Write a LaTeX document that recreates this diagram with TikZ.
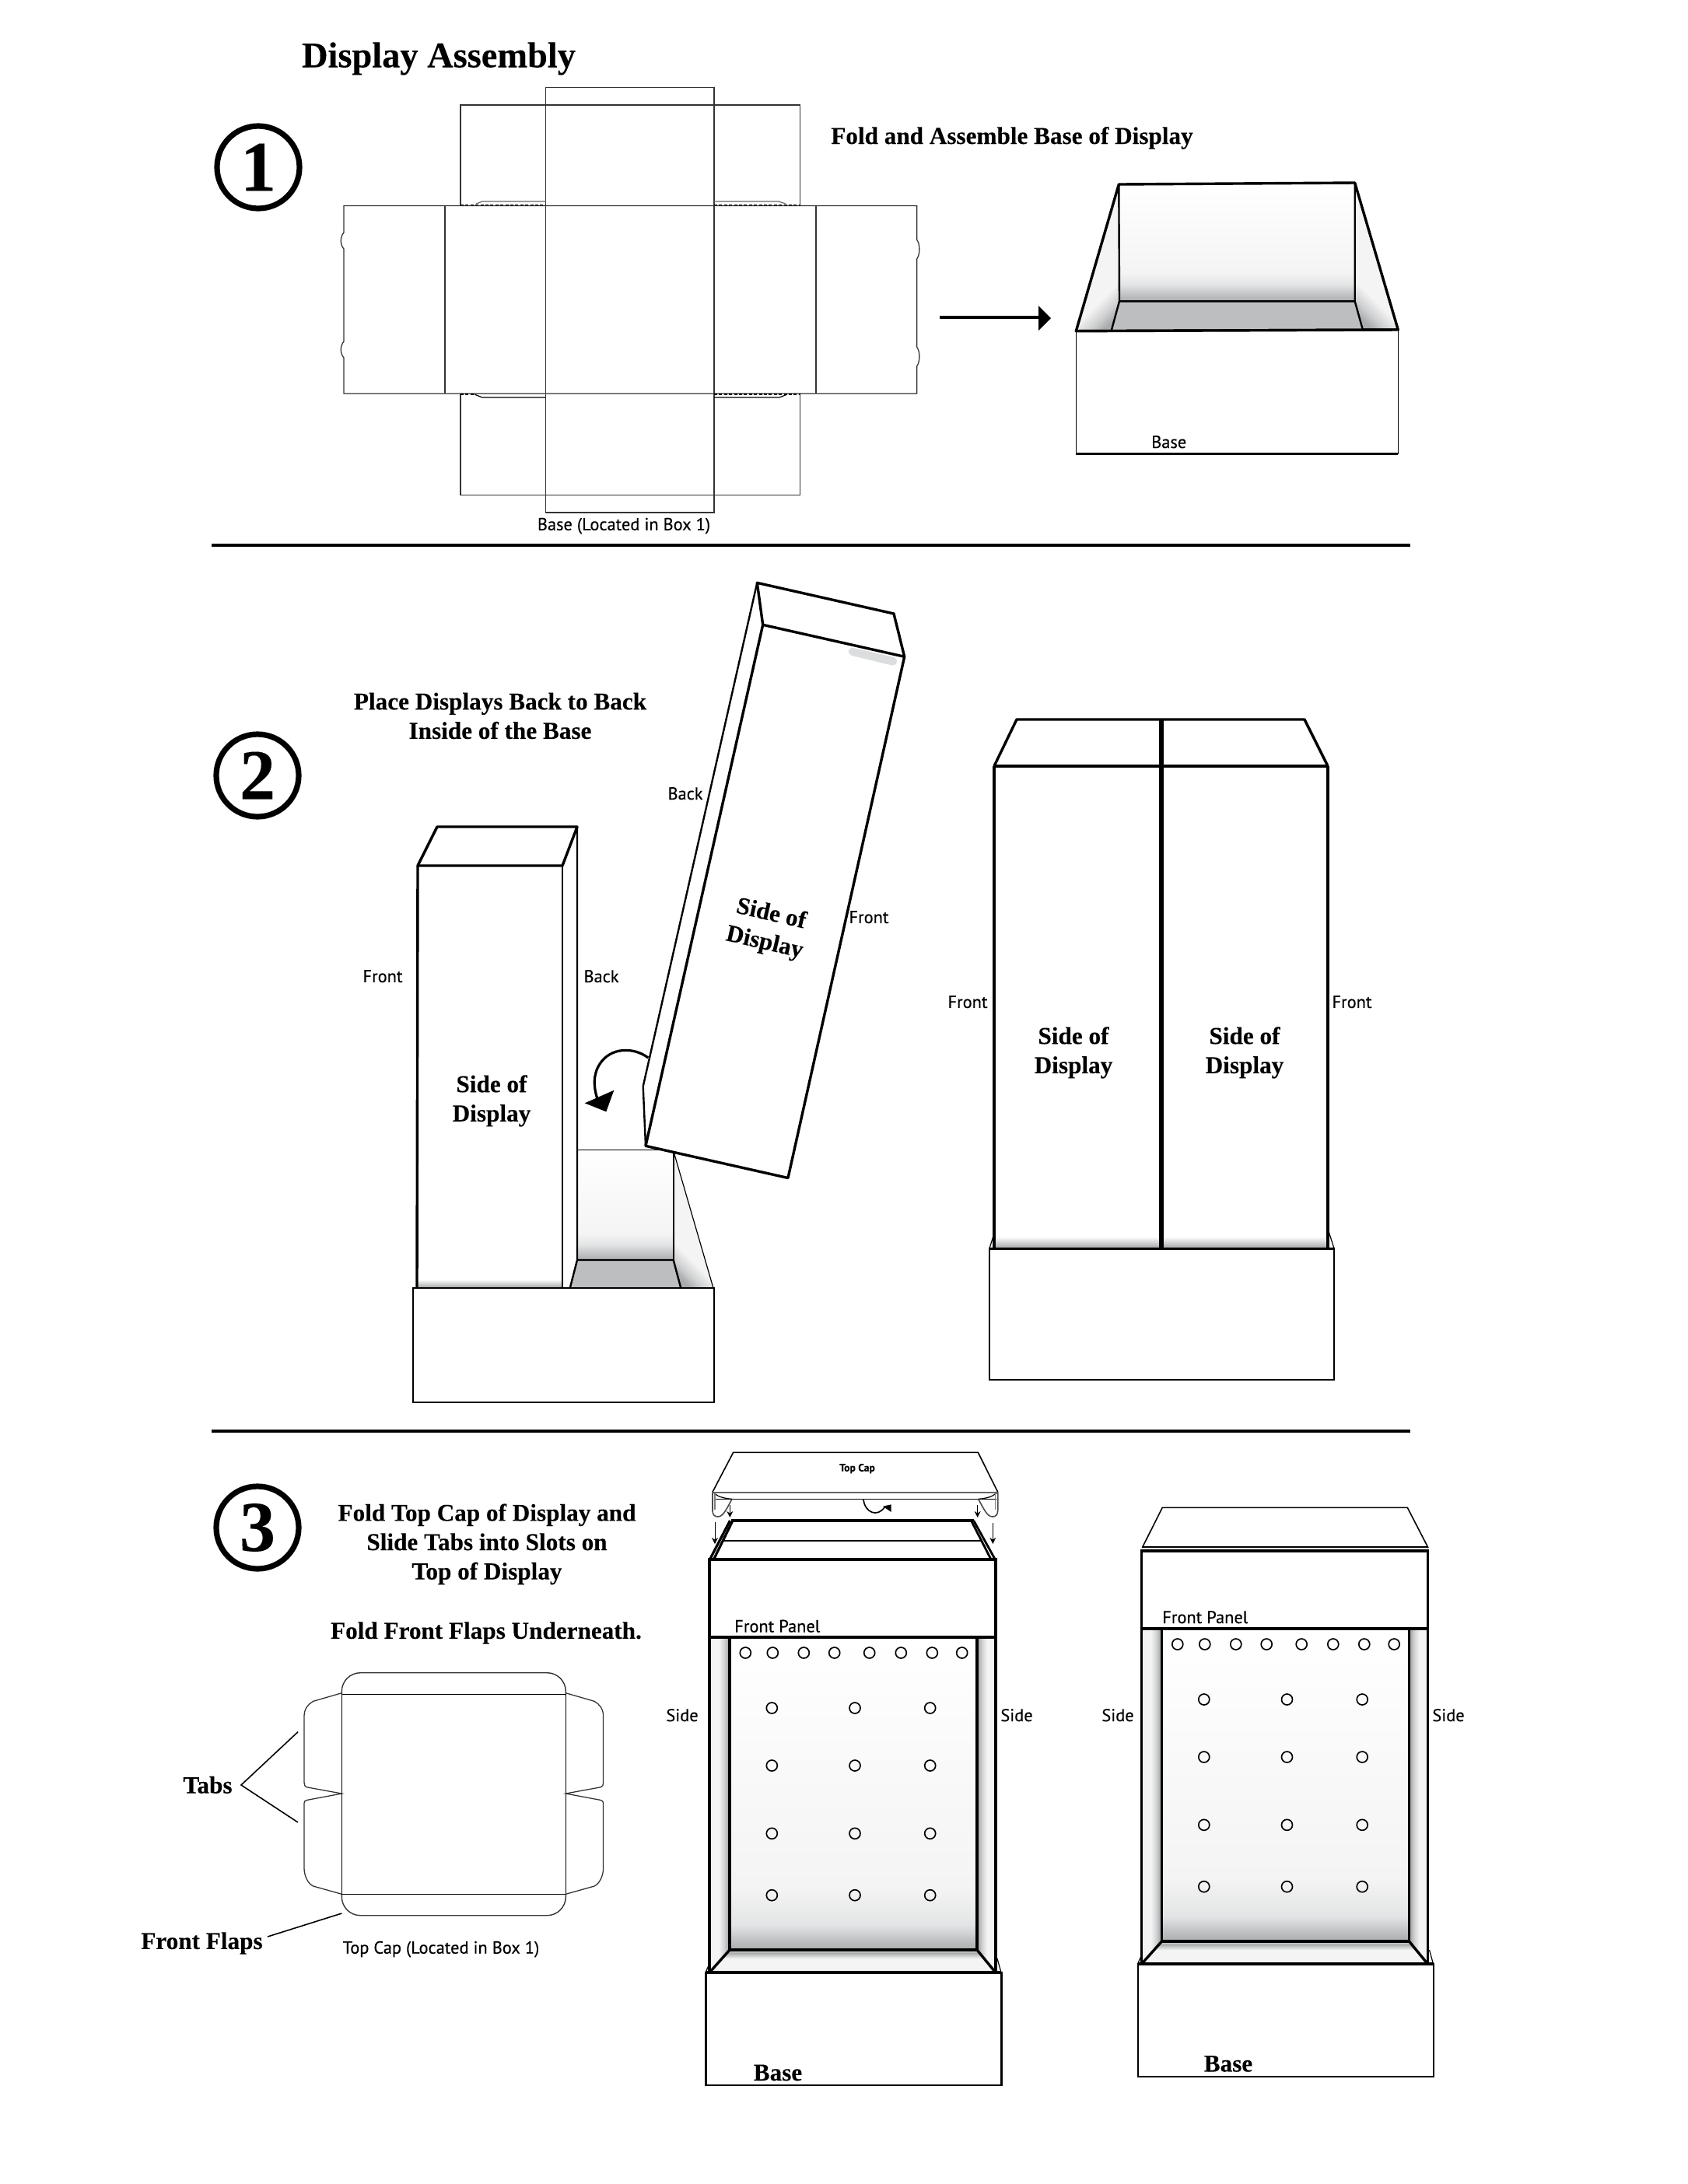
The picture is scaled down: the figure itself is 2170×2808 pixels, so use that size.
\documentclass[tikz,border=0pt]{standalone}
\usepackage{fontspec}
\setmainfont{Liberation Serif}[BoldFeatures={FakeBold=0.12}]
\newfontfamily\labfont[FakeBold=0.22]{PT Sans}
\usetikzlibrary{arrows.meta}
% shadings: the central 25bp..75bp band is fitted to the path
\definecolor{wA}{HTML}{A9ABAD}
\definecolor{wB}{HTML}{E3E4E5}
\definecolor{wC}{HTML}{F4F4F4}
\definecolor{wD}{HTML}{FFFFFF}
\definecolor{wE}{HTML}{989A9C}
\definecolor{wF}{HTML}{CFD0D1}
\definecolor{floorgray}{HTML}{BCBEC0}
\definecolor{tabgray}{HTML}{DCDDDE}
\pgfdeclareverticalshading{wallshade}{100bp}{color(0bp)=(wA);color(25bp)=(wA);color(29bp)=(wB);color(35bp)=(wC);color(75bp)=(wD);color(100bp)=(wD)}
\pgfdeclareverticalshading{binshade}{100bp}{color(0bp)=(wA);color(25bp)=(wA);color(32bp)=(wB);color(37bp)=(wC);color(75bp)=(wD);color(100bp)=(wD)}
\pgfdeclareverticalshading{floorshade}{100bp}{color(0bp)=(wC);color(25bp)=(wC);color(55bp)=(wC);color(68bp)=(wA);color(75bp)=(wB);color(100bp)=(wB)}
\pgfdeclarehorizontalshading{leftside}{100bp}{color(0bp)=(wC);color(25bp)=(wC);color(48bp)=(wC);color(62bp)=(wF);color(75bp)=(wE);color(100bp)=(wE)}
\pgfdeclarehorizontalshading{rightside}{100bp}{color(0bp)=(wE);color(25bp)=(wE);color(38bp)=(wF);color(52bp)=(wC);color(75bp)=(wC);color(100bp)=(wC)}
\pgfdeclarehorizontalshading{diagwedge}{100bp}{color(0bp)=(wC);color(67bp)=(wC);color(74bp)=(wF);color(79bp)=(wA);color(100bp)=(wA)}
\pgfdeclareverticalshading{baseglow}{100bp}{color(0bp)=(wA);color(25bp)=(wA);color(75bp)=(wD);color(100bp)=(wD)}
\tikzset{
  thickln/.style={line width=0.85pt,line join=miter},
  medln/.style={line width=0.6pt},
  thinln/.style={line width=0.4pt},
  hairln/.style={line width=0.3pt},
  netln/.style={line width=0.32pt,draw=black!80},
  sepln/.style={line width=1.1pt},
  titletxt/.style={inner sep=0pt,align=center,yshift=-0.85pt,font=\fontsize{7.8}{9.4}\selectfont\bfseries},
  labeltxt/.style={inner sep=0pt,align=center,yshift=-0.3pt,font=\fontsize{5.6}{6.6}\selectfont\labfont},
  stepring/.style={circle,draw,line width=1.8pt,minimum size=26.5pt,inner sep=0pt,font=\fontsize{23}{23}\selectfont\bfseries},
  holemark/.style={line width=0.42pt,draw=black},
  smalltip/.style={-{Stealth[length=2pt,width=2pt]},line width=0.22pt},
}
\newcommand{\holeset}{%
  \foreach \hx in {958.3,993.3,1033.3,1072.7,1117.7,1158.3,1198.3,1236.7}
    \draw[holemark] (\hx,2125) circle (7);
  \foreach \hy in {2196,2270,2357.3,2436.7}
    \foreach \hx in {992.3,1099,1195.7}
      \draw[holemark] (\hx,\hy) circle (7);
}
\newcommand{\figthree}{%
  % side panels, back, floor
  \shade[shading=leftside] (912,2105)--(938,2105)--(938,2507)--(913,2535)--cycle;
  \shade[shading=rightside] (1256,2105)--(1280,2105)--(1279,2535)--(1256,2507)--cycle;
  \shade[shading=wallshade] (938,2105) rectangle (1256,2507);
  \shade[shading=floorshade] (938,2507)--(1256,2507)--(1279,2535)--(913,2535)--cycle;
  \holeset
  \draw[thickln] (938,2105)--(938,2507)--(1256,2507)--(1256,2105);
  \draw[thickln] (938,2507)--(913,2535);
  \draw[thickln] (1256,2507)--(1279,2535);
  \draw[thickln] (912,2105)--(912,2536);
  \draw[thickln] (1280,2105)--(1280,2536);
  % base
  \draw[hairln] (907,2536)--(911,2527);
  \draw[hairln] (1287,2536)--(1282,2518);
  \draw[medln,fill=white] (907.3,2536) rectangle (1287.3,2681);
  \draw[thickln] (907.3,2536)--(1287.3,2536);
  % front panel
  \draw[thickln,fill=white] (912,2005) rectangle (1280,2105);
}
\begin{document}
\begin{tikzpicture}[x=0.25pt,y=-0.25pt]
\useasboundingbox (0,0) rectangle (2170,2808);
\fill[white] (0,0) rectangle (2170,2808);

% ---------- headings and step marks
\node[titletxt,font=\fontsize{11.6}{13}\selectfont\bfseries] (title) at (564,72) {Display Assembly};
\node[stepring] (stepA) at (332,215) {1};
\node[stepring] (stepB) at (331,997) {2};
\node[stepring] (stepC) at (331,1964) {3};
\node[titletxt] (foldbase) at (1301,174) {Fold and Assemble Base of Display};

% ---------- base net
\draw[netln] (701.5,112.6) rectangle (918,659);
\draw[netln] (592,264.5)--(592,135)--(1028.5,135)--(1028.5,264.5);
\draw[netln] (592,506)--(592,636.5)--(1028.5,636.5)--(1028.5,506);
\draw[netln] (442,264.5)--(442,299) .. controls (437,305) and (437,314) .. (442,320)
  --(442,439) .. controls (437,445) and (437,454) .. (442,460)
  --(442,506)--(1178.6,506)
  --(1178.6,471) .. controls (1183,465) and (1183,452) .. (1178.6,446)
  --(1178.6,333) .. controls (1183,327) and (1183,314) .. (1178.6,308)
  --(1178.6,264.5)--cycle;
\draw[netln] (572,264.5)--(572,506);
\draw[netln] (1049,264.5)--(1049,506);
\draw[line width=0.4pt,dash pattern=on 1pt off 0.6pt] (592,263.5)--(701.5,263.5);
\draw[line width=0.4pt,dash pattern=on 1pt off 0.6pt] (918,263.5)--(1028.5,263.5);
\draw[line width=0.4pt,dash pattern=on 1pt off 0.6pt] (592,507)--(610,507);
\draw[line width=0.4pt,dash pattern=on 1pt off 0.6pt] (918,507)--(1028.5,507);
\draw[hairln,draw=black!60] (612,262)--(620,259)--(701.5,259);
\draw[hairln,draw=black!60] (918,259)--(1001,259)--(1010,262);
\draw[hairln] (610,507)--(620,511)--(701.5,511);
\draw[hairln] (918,511)--(1002,511)--(1012,507);
\node[labeltxt] (netlabel) at (802,675) {Base (Located in Box 1)};

% ---------- arrow net to tray
\coordinate (arrA) at (1208,408);
\coordinate (arrB) at (1337,408);
\draw[line width=0.85pt] (arrA)--(arrB);
\fill (1351,409)--(1335,393)--(1335,425)--cycle;

% ---------- assembled base, step 1
\shade[shading=binshade] (1438.3,237)--(1741.7,235)--(1741.7,387.3)--(1439,387.3)--cycle;
\shade[shading=diagwedge,shading angle=-45] (1438.3,237)--(1439,387.3)--(1429,424)--(1383.3,425.7)--cycle;
\shade[shading=diagwedge,shading angle=225] (1741.7,235)--(1797.3,424)--(1751.7,423.3)--(1741.7,387.3)--cycle;
\fill[floorgray] (1439,387.3)--(1741.7,387.3)--(1751.7,423.3)--(1429,424)--cycle;
\draw[medln] (1438.3,237)--(1439,387.3)--(1741.7,387.3)--(1741.7,235);
\draw[medln] (1439,387.3)--(1429,424);
\draw[medln] (1741.7,387.3)--(1751.7,423.3);
\draw[thickln,line join=round] (1383.3,425.7)--(1438.3,237)--(1741.7,235)--(1797.3,424)--cycle;
\draw[thinln,fill=white] (1383.3,425.7)--(1383.3,583.3)--(1797.3,583.3)--(1797.3,424);
\draw[medln] (1383.3,583.3)--(1797.3,583.3);
\draw[thickln] (1383.3,425.7)--(1797.3,424);
\node[labeltxt] (basetray) at (1502.7,567) {Base};

% ---------- separators
\coordinate (sepAl) at (272,701);
\coordinate (sepAr) at (1813,701);
\coordinate (sepBl) at (272,1840);
\coordinate (sepBr) at (1813,1840);
\draw[sepln] (sepAl)--(sepAr);
\draw[sepln] (sepBl)--(sepBr);

% ---------- step 2 text
\node[titletxt] (placetxt) at (643,917) {Place Displays Back to Back\\Inside of the Base};

% ---------- step 2, tray behind tower
\shade[shading=binshade] (743,1478.3) rectangle (865.7,1620);
\shade[shading=diagwedge,shading angle=225] (865.7,1483)--(916.7,1655)--(875,1655)--(865.7,1620)--cycle;
\fill[floorgray] (743,1620)--(865.7,1620)--(875,1655)--(733,1655)--cycle;
\draw[thinln] (743,1478.3)--(860,1478.3);
\draw[thinln] (865.7,1483)--(865.7,1620);
\draw[hairln] (866.7,1483)--(916.7,1655);
\draw[medln] (743,1620)--(865.7,1620)--(875,1655);
% shadow over the base lip
\shade[shading=baseglow] (536,1645) rectangle (723,1655);

% left tower
\draw[thickln] (537,1113)--(536,1655);
\draw[medln] (723,1113)--(723,1655);
\draw[medln] (742,1063)--(742,1620)--(733,1655);
\draw[thickln,line join=round] (723,1113)--(742,1063)--(562,1063)--(537,1113)--cycle;
\node[titletxt] (sideA) at (632,1412) {Side of\\Display};
\node[labeltxt] (frontA) at (492,1254) {Front};
\node[labeltxt] (backA) at (773,1254) {Back};

% base box
\draw[thinln,fill=white] (531,1655.7) rectangle (917.7,1802.7);
\draw[medln] (531,1655.7)--(917.7,1655.7);
\draw[medln] (531,1802.7)--(917.7,1802.7);

% tilted tower
\fill[white] (973.3,749.3)--(1149,789)--(1162.7,844.3)--(1013,1514.5)--(830,1473.3)--(826.7,1396.7)--cycle;
\fill[tabgray,rounded corners=1.5pt] (1091.7,831.7)--(1154,846)--(1151.7,856.7)--(1090,841.7)--cycle;
\draw[thickln,line join=round] (980.7,803.3)--(973.3,749.3)--(1149,789)--(1162.7,844.3)--(980.7,803.3);
\draw[medln] (973.3,749.3)--(826.7,1396.7)--(830,1473.3);
\draw[thickln,line join=round] (980.7,803.3)--(830,1473.3)--(1013,1514.5)--(1162.7,844.3);
\node[titletxt,rotate=-13] (sideB) at (987,1191) {Side of\\Display};
\node[labeltxt] (backB) at (881,1019) {Back};
\node[labeltxt] (frontB) at (1117,1178) {Front};

% turning arrow
\coordinate (turnA) at (833.3,1360);
\coordinate (turnB) at (768,1413);
\draw[line width=0.8pt] (turnA) .. controls (815,1346) and (785,1346) .. (771,1368)
   .. controls (762,1382) and (763,1398) .. (turnB);
\fill (751.7,1418.3)--(789.3,1401.7)--(779.3,1429.3)--cycle;

% ---------- step 2, pair of towers
\shade[shading=baseglow] (1278,1590) rectangle (1707,1604);
\draw[thickln] (1278,985)--(1278,1604);
\draw[thickln] (1707,985)--(1707,1604);
\draw[line width=1.3pt] (1493,925)--(1493,1604);
\draw[thickln] (1278,985)--(1707,985);
\draw[thickln,line join=round] (1278,985)--(1307,925)--(1677,925)--(1707,985);
\draw[hairln] (1276.7,1590)--(1272,1605);
\draw[hairln] (1708,1583)--(1715,1605);
\draw[medln,fill=white] (1272,1605.5) rectangle (1715,1774);
\draw[thickln] (1272,1605.5)--(1715,1605.5);
\node[titletxt] (sideC) at (1380,1350) {Side of\\Display};
\node[titletxt] (sideD) at (1600,1350) {Side of\\Display};
\node[labeltxt] (frontC) at (1244,1287) {Front};
\node[labeltxt] (frontD) at (1738,1287) {Front};

% ---------- step 3 text
\node[titletxt] (fold3) at (626,1982) {Fold Top Cap of Display and\\Slide Tabs into Slots on\\Top of Display};
\node[titletxt] (flapstxt) at (625,2096) {Fold Front Flaps Underneath.};

% ---------- top cap net
\draw[netln,line width=0.35pt,rounded corners=6pt] (439.3,2178.3)--(439.3,2150.7)--(727.3,2150.7)--(727.3,2178.3);
\draw[netln,line width=0.35pt,rounded corners=6pt] (439.3,2435.3)--(439.3,2462.7)--(727.3,2462.7)--(727.3,2435.3);
\draw[thinln] (439.3,2178.3)--(439.3,2435.3);
\draw[thinln] (727.3,2178.3)--(727.3,2435.3);
\draw[thinln] (439.3,2178.3)--(727.3,2178.3);
\draw[thinln] (439.3,2435.3)--(727.3,2435.3);
\draw[netln] (439.3,2176.7)--(402.7,2187.3) .. controls (396,2191) and (391,2197) .. (391,2206.7)
  --(391,2291.7) .. controls (391,2295) and (392,2297) .. (394,2297.7)--(439.3,2306)
  --(395,2314.3) .. controls (392,2315) and (391,2316) .. (391,2318.3)
  --(391,2401.7) .. controls (391,2412) and (396,2422) .. (402.7,2425)--(439.3,2435.3);
\draw[netln] (727.3,2176.7)--(764,2187.3) .. controls (770.6,2191) and (775.6,2197) .. (775.6,2206.7)
  --(775.6,2291.7) .. controls (775.6,2295) and (774.6,2297) .. (772.6,2297.7)--(727.3,2306)
  --(771.6,2314.3) .. controls (774.6,2315) and (775.6,2316) .. (775.6,2318.3)
  --(775.6,2401.7) .. controls (775.6,2412) and (770.6,2422) .. (764,2425)--(727.3,2435.3);
\node[titletxt] (tabs) at (267,2291.5) {Tabs};
\coordinate (tabV) at (310,2295);
\coordinate (tabU) at (383,2226.7);
\coordinate (tabL) at (383,2343);
\draw[thinln] (tabU)--(tabV)--(tabL);
\node[titletxt] (flaps) at (259.5,2495) {Front Flaps};
\coordinate (flapA) at (344,2490);
\coordinate (flapB) at (439.3,2460);
\draw[thinln] (flapA)--(flapB);
\node[labeltxt] (caplabel) at (567,2505) {Top Cap (Located in Box 1)};

% ---------- step 3, centre unit: top cap
\draw[thinln,line join=round] (916,1918.3)--(942.7,1867.3)--(1257.3,1867.3)--(1282.7,1918.3);
\draw[thinln,draw=black!60,line width=0.45pt] (916,1919)--(1282.7,1919);
\draw[thinln] (918,1927.3)--(1281,1927.3);
\foreach \sgn/\off in {1/0,-1/2198.7}{
  \draw[thinln,draw=black!70] (\off+\sgn*916,1918.3)--(\off+\sgn*916,1942)
     .. controls (\off+\sgn*916,1948) and (\off+\sgn*919,1950) .. (\off+\sgn*923,1950)
     .. controls (\off+\sgn*930,1950) and (\off+\sgn*935,1938) .. (\off+\sgn*941,1927.3);
  \draw[hairln] (\off+\sgn*918,1920) .. controls (\off+\sgn*924,1925) and (\off+\sgn*932,1926.5) .. (\off+\sgn*941,1927.3);
  \draw[hairln,draw=black!50] (\off+\sgn*919,1920)--(\off+\sgn*919,1941);
}
\node[labeltxt,font=\fontsize{3.4}{4}\selectfont\labfont\bfseries] (capname) at (1102,1887) {Top Cap};
\coordinate (dA1) at (938.3,1935);\coordinate (dA2) at (938.3,1951);
\coordinate (dB1) at (1256.7,1935);\coordinate (dB2) at (1256.7,1951);
\coordinate (dC1) at (919,1957);\coordinate (dC2) at (919,1985);
\coordinate (dD1) at (1276.3,1958);\coordinate (dD2) at (1276.3,1985);
\draw[smalltip] (dA1)--(dA2);
\draw[smalltip] (dB1)--(dB2);
\draw[smalltip] (dC1)--(dC2);
\draw[smalltip] (dD1)--(dD2);
\coordinate (flipA) at (1110,1928);
\coordinate (flipB) at (1137,1938);
\draw[line width=0.42pt] (flipA) .. controls (1112,1945) and (1128,1951) .. (flipB);
\fill (1135,1936.7)--(1145.7,1934.3)--(1145.7,1944)--cycle;

% centre unit top slope
\draw[thickln,line join=round] (940,1955)--(1251.7,1955);
\draw[medln] (928.3,1980.7)--(1262.7,1980.7);
\draw[line width=0.7pt] (1251.7,1955)--(1279.3,2005);
\draw[line width=0.7pt] (1248.5,1955)--(1274,2005);
\draw[line width=0.8pt] (938.5,1955)--(912.5,2005);
\draw[line width=0.8pt] (942,1955)--(917.5,2005);

\figthree
\node[labeltxt] (panelA) at (999.3,2089.5) {Front Panel};
\node[titletxt] (baseA) at (1000,2661.5) {Base};
\node[labeltxt] (sideE) at (877,2204) {Side};
\node[labeltxt] (sideF) at (1307,2204) {Side};

% ---------- step 3, right unit
\begin{scope}[shift={(555.5,-11)}]
  \figthree
\end{scope}
\draw[thinln,line join=round] (1468.3,1990)--(1494.3,1938.3)--(1809.3,1938.3)--(1836,1990);
\draw[hairln] (1468.3,1989)--(1836,1989);
\node[labeltxt] (panelB) at (1549.3,2078) {Front Panel};
\node[titletxt] (baseB) at (1579,2650) {Base};
\node[labeltxt] (sideG) at (1437,2204) {Side};
\node[labeltxt] (sideH) at (1862,2204) {Side};
\end{tikzpicture}
\end{document}
